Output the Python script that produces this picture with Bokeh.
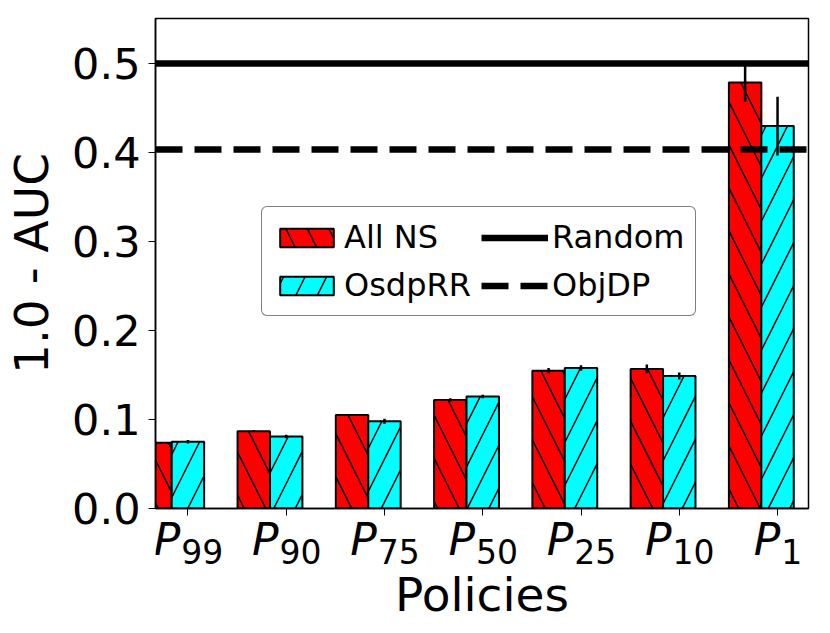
from bokeh.plotting import figure
from bokeh.layouts import column
from bokeh.models import (Range1d, FixedTicker, PrintfTickFormatter, Legend,
                          LegendItem, ColumnDataSource)
from bokeh.core.properties import value
from bokeh.embed import file_html
from bokeh.resources import INLINE

# ---- data ----
policies = ["99", "90", "75", "50", "25", "10", "1"]
all_ns = [0.074, 0.087, 0.105, 0.122, 0.155, 0.157, 0.479]
all_ns_err = [0.001, 0.001, 0.001, 0.002, 0.003, 0.005, 0.022]
osdp_rr = [0.075, 0.081, 0.098, 0.126, 0.158, 0.149, 0.430]
osdp_rr_err = [0.002, 0.002, 0.003, 0.002, 0.003, 0.004, 0.033]
random_level = [0.5]
objdp_level = [0.404]
y_ticks = [0.0, 0.1, 0.2, 0.3, 0.4, 0.5]
x_label = "Policies"
y_label = "1.0 - AUC"

BW = 0.33
FONT = "DejaVu Sans"
LEFT = 155
FW = 653
RIGHT = 10

idx = list(range(len(policies)))
red_x = [i - BW for i in idx]
cyan_x = list(idx)

p = figure(title=None, frame_width=FW, frame_height=490, output_backend="svg",
           toolbar_location=None, x_range=Range1d(-BW, 6.315), y_range=Range1d(0, 0.551))
p.min_border_left = LEFT
p.min_border_top = 18
p.min_border_right = RIGHT
p.min_border_bottom = 40
p.outline_line_color = "black"
p.outline_line_width = 1.5
p.xgrid.visible = False
p.ygrid.visible = False

src_r = ColumnDataSource(dict(x=red_x, top=all_ns, lo=[v - e for v, e in zip(all_ns, all_ns_err)],
                              hi=[v + e for v, e in zip(all_ns, all_ns_err)]))
src_c = ColumnDataSource(dict(x=cyan_x, top=osdp_rr, lo=[v - e for v, e in zip(osdp_rr, osdp_rr_err)],
                              hi=[v + e for v, e in zip(osdp_rr, osdp_rr_err)]))

r_red = p.vbar(x="x", top="top", bottom=0, width=BW, source=src_r, fill_color="red",
               line_color="black", line_width=2, hatch_pattern="\\", hatch_color="black",
               hatch_weight=1.5, hatch_scale=43)
r_cyan = p.vbar(x="x", top="top", bottom=0, width=BW, source=src_c, fill_color="cyan",
                line_color="black", line_width=2, hatch_pattern="/", hatch_color="black",
                hatch_weight=1.5, hatch_scale=43)

r_rand = p.hspan(y=random_level, line_color="black", line_width=6.5)
r_obj = p.hspan(y=objdp_level, line_color="black", line_width=6.5, line_dash="27 12")

p.segment(x0="x", y0="lo", x1="x", y1="hi", source=src_r, line_color="black", line_width=2.5)
p.segment(x0="x", y0="lo", x1="x", y1="hi", source=src_c, line_color="black", line_width=2.5)

legend = Legend(items=[LegendItem(label="All NS", renderers=[r_red]),
                       LegendItem(label="OsdpRR", renderers=[r_cyan]),
                       LegendItem(label="Random", renderers=[r_rand]),
                       LegendItem(label="ObjDP", renderers=[r_obj])],
                location=(106, 192), orientation="vertical", nrows=2)
legend.label_text_font = FONT
legend.label_text_font_size = "32px"
legend.label_text_color = "black"
legend.glyph_width = 67
legend.glyph_height = 23
legend.label_standoff = 4
legend.spacing = 10
legend.padding = 11
legend.margin = 0
legend.border_line_color = "black"
legend.border_line_width = 1.5
legend.border_radius = 6
legend.background_fill_alpha = 1.0
p.add_layout(legend, "center")

# axes
p.yaxis.ticker = FixedTicker(ticks=y_ticks)
p.yaxis.formatter = PrintfTickFormatter(format="%.1f")
p.yaxis.minor_tick_line_color = None
p.yaxis.major_tick_out = 7
p.yaxis.major_tick_in = 0
p.yaxis.major_label_text_font = FONT
p.yaxis.major_label_text_font_size = "43px"
p.yaxis.major_label_text_color = "black"
p.yaxis.major_label_standoff = 8
p.yaxis.axis_label = y_label
p.yaxis.axis_label_text_font = FONT
p.yaxis.axis_label_text_font_size = "47px"
p.yaxis.axis_label_text_font_style = "normal"
p.yaxis.axis_label_text_color = "black"
p.yaxis.axis_label_standoff = 10
p.yaxis.axis_line_width = 1.5

p.xaxis.ticker = FixedTicker(ticks=idx)
p.xaxis.major_label_overrides = {i: "" for i in idx}
p.xaxis.major_label_text_font_size = "0px"
p.xaxis.major_label_standoff = 0
p.xaxis.minor_tick_line_color = None
p.xaxis.major_tick_out = 7
p.xaxis.major_tick_in = 0
p.xaxis.axis_line_width = 1.5

# lower strip (transparent, pulled up under the frame): x tick labels and x-axis title
p2 = figure(title=None, frame_width=FW, frame_height=120, output_backend="svg",
            toolbar_location=None, x_range=p.x_range, y_range=Range1d(-120, 0))
p2.min_border_left = LEFT
p2.min_border_right = RIGHT
p2.min_border_top = 0
p2.min_border_bottom = 0
p2.outline_line_color = None
p2.background_fill_color = None
p2.border_fill_color = None
p2.axis.visible = False
p2.grid.visible = False
p2.margin = (-38, 0, 0, 0)

wP = 0.603 * 44
joint = [(wP - 0.636 * 33 * len(s)) / 2.0 for s in policies]
lab_src = ColumnDataSource(dict(x=idx, p=["P"] * len(idx), sub=policies, j=joint,
                                j2=[v + 1 for v in joint]))
p2.text(x="x", y=-29, text="p", source=lab_src, x_offset="j", text_font=value(FONT),
        text_font_style="italic", text_font_size="44px", text_align="right",
        text_baseline="alphabetic", text_color="black")
p2.text(x="x", y=-41, text="sub", source=lab_src, x_offset="j2", text_font=value(FONT),
        text_font_size="33px", text_align="left", text_baseline="alphabetic", text_color="black")
p2.text(x=[(p.x_range.start + p.x_range.end) / 2.0], y=[-84], text=[x_label],
        text_font=value(FONT), text_font_size="47px", text_align="center",
        text_baseline="alphabetic", text_color="black")

layout = column(p, p2, spacing=0)
open("out.html", "w").write(file_html(layout, INLINE))
